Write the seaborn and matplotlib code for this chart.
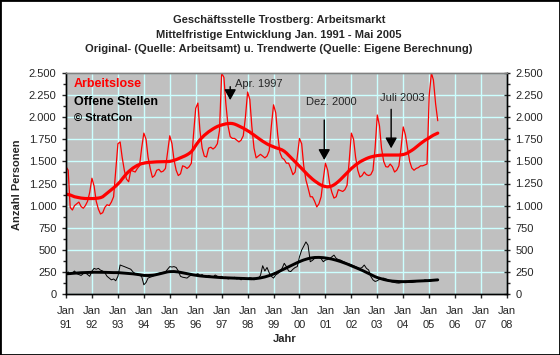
import pandas as pd
import matplotlib
matplotlib.use("Agg")
import matplotlib.pyplot as plt
from matplotlib.ticker import FuncFormatter, MultipleLocator
from matplotlib.patches import Rectangle
import seaborn as sns

sns.set_style("white")
plt.rcParams['font.family'] = ['Liberation Sans', 'DejaVu Sans']

# Monatswerte Jan 1991 - Mai 2005
arbeitslose = [
    1440, 1400, 980, 950, 1000, 1020, 1040, 990, 970, 1000, 1050, 1150,     # 1991
    1310, 1220, 1050, 960, 905, 920, 980, 1010, 1000, 1040, 1100, 1400,     # 1992
    1700, 1720, 1550, 1400, 1300, 1270, 1400, 1390, 1380, 1420, 1450, 1650, # 1993
    1820, 1750, 1550, 1420, 1320, 1340, 1400, 1410, 1380, 1390, 1420, 1600, # 1994
    1790, 1700, 1520, 1400, 1340, 1360, 1450, 1440, 1420, 1440, 1480, 1800, # 1995
    2100, 2160, 1850, 1650, 1560, 1550, 1650, 1660, 1640, 1660, 1700, 1850, # 1996
    2500, 2450, 2150, 1900, 1780, 1760, 1760, 1740, 1720, 1740, 1790, 2000, # 1997
    2285, 2200, 1900, 1650, 1540, 1560, 1580, 1560, 1540, 1560, 1620, 1900, # 1998
    2140, 2050, 1800, 1600, 1540, 1520, 1480, 1480, 1420, 1350, 1380, 1550, # 1999
    1760, 1700, 1450, 1290, 1200, 1100, 1100, 1050, 985, 1020, 1100, 1300,  # 2000
    1480, 1400, 1250, 1150, 1085, 1100, 1180, 1170, 1160, 1180, 1230, 1500, # 2001
    1820, 1750, 1550, 1400, 1323, 1340, 1380, 1350, 1340, 1350, 1400, 1650, # 2002
    2025, 1900, 1650, 1500, 1440, 1436, 1470, 1440, 1380, 1400, 1450, 1650, # 2003
    1890, 1800, 1650, 1500, 1425, 1400, 1420, 1430, 1450, 1450, 1460, 1470, # 2004
    2250, 2500, 2420, 2150, 1960,                                           # 2005
]
arbeitslose_trend = [
    1130, 1125, 1120, 1110, 1100, 1095, 1090, 1085, 1082, 1080, 1080, 1080,
    1080, 1080, 1082, 1085, 1090, 1100, 1120, 1140, 1160, 1180, 1200, 1220,
    1245, 1270, 1300, 1330, 1360, 1385, 1405, 1425, 1440, 1455, 1465, 1475,
    1480, 1485, 1488, 1490, 1492, 1494, 1495, 1496, 1497, 1497, 1497, 1498,
    1500, 1505, 1512, 1520, 1530, 1540, 1550, 1562, 1575, 1590, 1610, 1640,
    1680, 1715, 1745, 1770, 1795, 1815, 1835, 1852, 1868, 1882, 1895, 1905,
    1912, 1920, 1925, 1928, 1930, 1928, 1922, 1912, 1900, 1888, 1876, 1862,
    1848, 1832, 1815, 1798, 1780, 1762, 1745, 1728, 1712, 1698, 1685, 1675,
    1665, 1655, 1648, 1640, 1630, 1615, 1595, 1570, 1545, 1520, 1495, 1470,
    1445, 1420, 1395, 1370, 1345, 1322, 1300, 1280, 1262, 1246, 1232, 1222,
    1215, 1212, 1215, 1222, 1235, 1252, 1272, 1295, 1320, 1345, 1370, 1395,
    1420, 1440, 1460, 1478, 1494, 1508, 1520, 1532, 1542, 1550, 1556, 1562,
    1566, 1569, 1571, 1572, 1572, 1572, 1572, 1572, 1572, 1572, 1572, 1574,
    1578, 1585, 1595, 1610, 1625, 1642, 1662, 1682, 1702, 1720, 1738, 1752,
    1768, 1783, 1797, 1809, 1820,
]
offene_stellen = [
    230, 250, 220, 240, 260, 230, 220, 210, 230, 240, 220, 200,
    260, 290, 280, 290, 270, 260, 240, 200, 180, 160, 170, 150,
    200, 328, 320, 310, 300, 290, 280, 250, 230, 220, 210, 200,
    104, 130, 180, 190, 198, 210, 220, 235, 240, 245, 250, 280,
    310, 305, 310, 300, 260, 200, 190, 185, 180, 200, 216, 210,
    220, 230, 210, 220, 200, 190, 210, 200, 190, 215, 200, 195,
    200, 180, 190, 170, 180, 175, 190, 170, 180, 160, 185, 175,
    170, 185, 180, 160, 175, 180, 210, 320, 260, 300, 240, 200,
    180, 216, 230, 254, 290, 347, 310, 260, 254, 280, 300, 310,
    420, 496, 540, 589, 552, 365, 380, 403, 410, 421, 400, 365,
    384, 390, 400, 420, 440, 403, 390, 384, 370, 360, 347, 340,
    330, 320, 310, 300, 290, 300, 328, 290, 272, 200, 160, 142,
    150, 168, 175, 180, 170, 160, 142, 135, 130, 125, 123, 128,
    130, 128, 130, 132, 130, 135, 140, 153, 150, 145, 160, 155,
    142, 150, 160, 155, 160,
]
offene_stellen_trend = [
    228, 230, 232, 234, 236, 238, 240, 241, 242, 243, 244, 245,
    245, 246, 246, 246, 246, 246, 245, 244, 243, 242, 242, 242,
    242, 240, 238, 236, 234, 232, 230, 228, 225, 222, 218, 214,
    210, 209, 209, 210, 212, 215, 220, 226, 232, 238, 244, 250,
    253, 254, 254, 252, 249, 245, 240, 235, 230, 225, 220, 216,
    212, 208, 205, 202, 200, 198, 196, 194, 192, 190, 188, 186,
    185, 184, 183, 182, 181, 180, 179, 178, 177, 176, 175, 174,
    173, 172, 172, 173, 175, 178, 182, 187, 193, 200, 208, 216,
    226, 237, 248, 260, 272, 284, 296, 308, 320, 332, 344, 355,
    366, 376, 385, 393, 400, 406, 410, 413, 414, 414, 413, 411,
    408, 404, 400, 395, 389, 382, 375, 367, 358, 349, 340, 330,
    320, 310, 300, 290, 279, 268, 256, 244, 232, 220, 208, 196,
    186, 178, 170, 164, 158, 153, 149, 146, 144, 142, 141, 140,
    140, 140, 141, 142, 143, 144, 145, 146, 147, 148, 149, 150,
    152, 154, 156, 158, 160,
]
jahre = ['91', '92', '93', '94', '95', '96', '97', '98', '99',
         '00', '01', '02', '03', '04', '05', '06', '07', '08']

monate = pd.date_range("1991-01-01", periods=len(arbeitslose), freq="MS")
df = pd.DataFrame({"Monat": monate,
                   "Arbeitslose": arbeitslose,
                   "Trend_AL": arbeitslose_trend,
                   "Offene": offene_stellen,
                   "Trend_OS": offene_stellen_trend})

fig = plt.figure(figsize=(5.6, 3.55), dpi=100)
ax = fig.add_axes([66 / 560, 1 - 294 / 355, 441 / 560, 221 / 355])
ax.set_facecolor('#c0c0c0')

sns.lineplot(data=df, x="Monat", y="Arbeitslose", ax=ax, color='red', lw=0.9)
sns.lineplot(data=df, x="Monat", y="Trend_AL", ax=ax, color='red', lw=2.3)
sns.lineplot(data=df, x="Monat", y="Offene", ax=ax, color='black', lw=0.7)
sns.lineplot(data=df, x="Monat", y="Trend_OS", ax=ax, color='black', lw=2.1)

# Achsen
jan_ticks = pd.date_range("1991-01-01", "2008-01-01", freq="YS")
ax.set_xlim(jan_ticks[0], jan_ticks[-1])
ax.set_xticks(jan_ticks)
ax.set_xticklabels(["Jan\n" + j for j in jahre], linespacing=1.55)
ax.set_ylim(0, 2500)
fmt = FuncFormatter(lambda v, p: f"{int(v):,}".replace(",", "."))
ax.yaxis.set_major_locator(MultipleLocator(250))
ax.yaxis.set_minor_locator(MultipleLocator(125))
ax.yaxis.set_major_formatter(fmt)
ax.set_xlabel("")
ax.set_ylabel("")
ax.set_axisbelow(True)
ax.grid(True, which='major', color='#ccffff', lw=1)

ax.tick_params(axis='y', which='major', direction='out', length=3, width=1,
               labelsize=8, pad=3.8, left=True)
ax.tick_params(axis='y', which='minor', direction='out', length=2, width=1, left=True)
ax.tick_params(axis='x', direction='out', length=3, width=1, labelsize=8, pad=5.5,
               bottom=True)

ax2 = ax.twinx()
ax2.set_ylim(0, 2500)
ax2.yaxis.set_major_locator(MultipleLocator(250))
ax2.yaxis.set_minor_locator(MultipleLocator(125))
ax2.yaxis.set_major_formatter(fmt)
ax2.tick_params(axis='y', which='major', direction='inout', length=5, width=1,
                labelsize=8, pad=3.5, right=True)
ax2.tick_params(axis='y', which='minor', direction='out', length=2, width=1, right=True)

for a in (ax, ax2):
    for s in a.spines.values():
        s.set_color('black')
        s.set_linewidth(1)
    a.spines['top'].set_color('#808080')

# Beschriftung
fig.text(0.498, 1 - 20 / 355, "Geschäftsstelle Trostberg: Arbeitsmarkt",
         ha='center', va='center', fontsize=8, fontweight='bold')
fig.text(0.498, 1 - 34.5 / 355, "Mittelfristige Entwicklung Jan. 1991 - Mai 2005",
         ha='center', va='center', fontsize=8, fontweight='bold')
fig.text(0.498, 1 - 49 / 355,
         "Original- (Quelle: Arbeitsamt) u. Trendwerte (Quelle: Eigene Berechnung)",
         ha='center', va='center', fontsize=8, fontweight='bold')
fig.text(285 / 560, 1 - 339 / 355, "Jahr", ha='center', va='center',
         fontsize=8, fontweight='bold')
fig.text(17 / 560, 1 - 185 / 355, "Anzahl Personen", ha='center', va='center',
         rotation=90, fontsize=8, fontweight='bold')

fig.text(74 / 560, 1 - 84 / 355, "Arbeitslose", color='red', ha='left',
         va='center', fontsize=9, fontweight='bold')
fig.text(74 / 560, 1 - 101.5 / 355, "Offene Stellen", color='black', ha='left',
         va='center', fontsize=9, fontweight='bold')
fig.text(74 / 560, 1 - 117.5 / 355, "© StratCon", color='black', ha='left',
         va='center', fontsize=8, fontweight='bold')

pfeil = dict(arrowstyle='-|>,head_length=0.45,head_width=0.25', color='black',
             lw=1, mutation_scale=14, shrinkA=0, shrinkB=0)
markierungen = [
    ("Apr. 1997", "1997-05-01", 2345, 2194, "1997-07-10", 2375),
    ("Dez. 2000", "2000-12-15", 1968, 1516, "2000-04-01", 2168),
    ("Juli 2003", "2003-07-15", 2089, 1648, "2003-02-12", 2213),
]
for text, x, y0, y1, tx, ty in markierungen:
    ax.annotate("", xy=(pd.Timestamp(x), y1), xytext=(pd.Timestamp(x), y0),
                arrowprops=pfeil)
    ax.text(pd.Timestamp(tx), ty, text, ha='left', va='center', fontsize=8)

fig.add_artist(Rectangle((0, 0), 1, 1, transform=fig.transFigure, fill=False,
                         lw=2, ec='black'))

fig.savefig("out.png", dpi=100)
